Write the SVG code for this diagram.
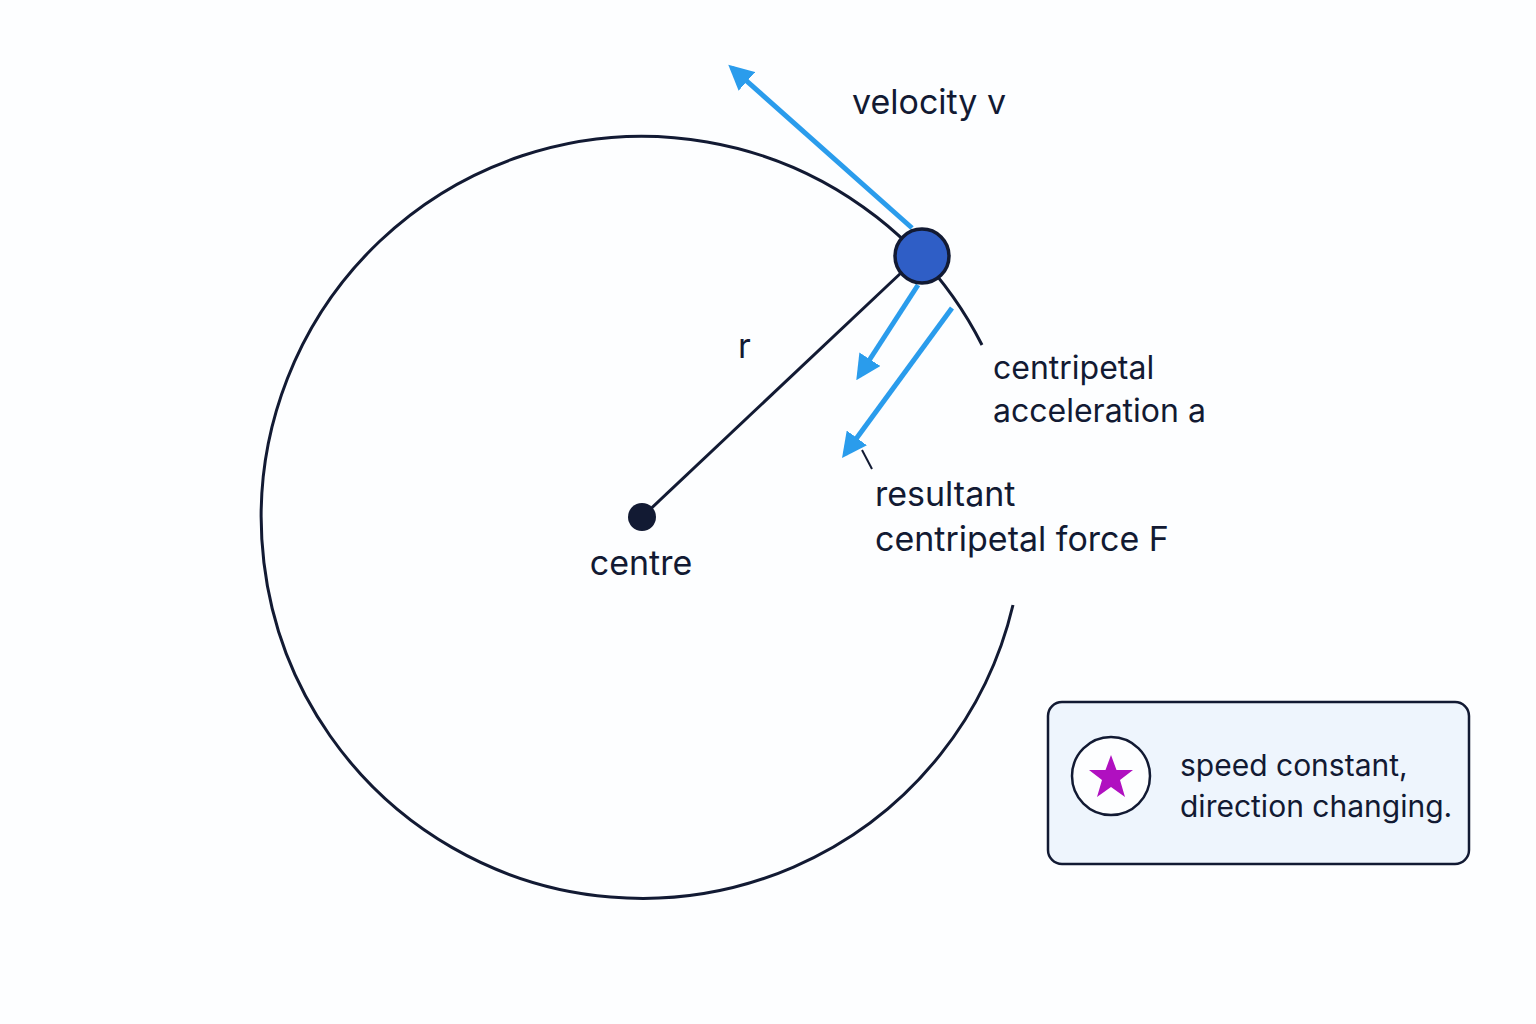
<svg xmlns="http://www.w3.org/2000/svg" width="1536" height="1024" viewBox="0 0 1536 1024">
<style>
text{font-family:Inter,"Liberation Sans",sans-serif;fill:#121a33}
.blk{stroke:#121a33;stroke-width:3;fill:none}
.blue{stroke:#2a9cec;stroke-width:5;fill:none}
</style>
<defs>
<marker id="ah" viewBox="0 0 10 10" refX="8" refY="5" markerWidth="5" markerHeight="5" orient="auto" markerUnits="strokeWidth">
<path d="M0,0 L10,5 L0,10 Z" fill="#2a9cec"/>
</marker>
</defs>
<rect width="1536" height="1024" fill="#fdfeff"/>
<g id="path">
<path class="blk" d="M1013,605 A381,381 0 1 1 982,345"/>
</g>
<g id="connectors">
<line class="blk" x1="642" y1="517" x2="903" y2="271"/>
<line class="blue" x1="912" y1="228" x2="732" y2="68" marker-end="url(#ah)"/>
<line class="blue" x1="918" y1="285" x2="859" y2="376" marker-end="url(#ah)"/>
<line class="blue" x1="952" y1="308" x2="845" y2="454" marker-end="url(#ah)"/>
<line stroke="#121a33" stroke-width="2" x1="862" y1="450" x2="872" y2="469"/>
</g>
<g id="centre">
<circle cx="642" cy="517" r="14" fill="#121a33"/>
<text x="641" y="575" font-size="34" text-anchor="middle">centre</text>
</g>
<g id="particle">
<circle cx="922" cy="256" r="27" fill="#2f5ec6" stroke="#121a33" stroke-width="3.5"/>
</g>
<text x="738" y="358" font-size="34">r</text>
<text x="852" y="114" font-size="34">velocity v</text>
<text x="993" y="379" font-size="32">centripetal</text>
<text x="993" y="422" font-size="32">acceleration a</text>
<text x="875" y="506" font-size="34">resultant</text>
<text x="875" y="551" font-size="34">centripetal force F</text>
<g id="legend">
<rect x="1048" y="702" width="421" height="162" rx="14" fill="#eef5fd" stroke="#121a33" stroke-width="2.5"/>
<circle cx="1111" cy="776" r="39" fill="#fdfeff" stroke="#121a33" stroke-width="2.5"/>
<polygon fill="#b010c0" points="1111,755 1116.5,770 1133,770 1120,780 1125,797 1111,787 1097,797 1102,780 1089,770 1105.5,770"/>
<text x="1180" y="776" font-size="30">speed constant,</text>
<text x="1180" y="817" font-size="30">direction changing.</text>
</g>
</svg>
